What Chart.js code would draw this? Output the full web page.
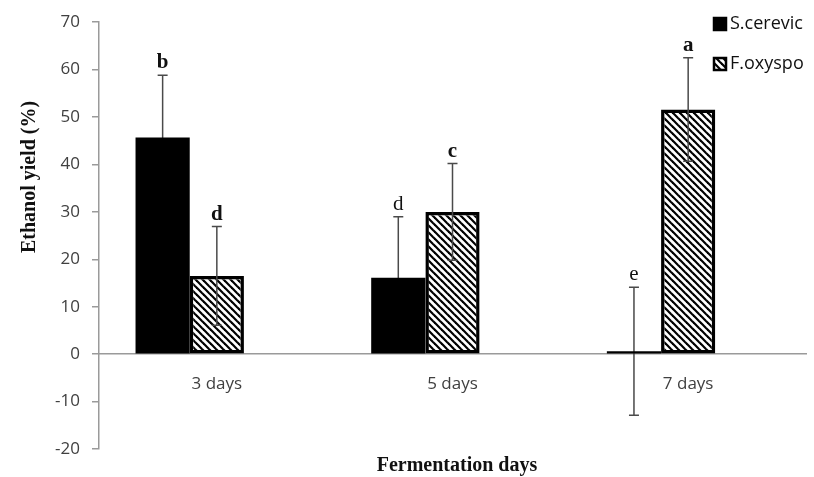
<!DOCTYPE html>
<html>
<head>
<meta charset="utf-8">
<script src="https://cdn.jsdelivr.net/npm/chart.js@4.4.1/dist/chart.umd.min.js"></script>
<style>
  html, body { margin: 0; padding: 0; background: #fff; }
  #wrap { width: 814px; height: 477px; }
</style>
</head>
<body>
<div id="wrap"><canvas id="ethanolChart" width="814" height="477"></canvas></div>
<script>
// data
const days = ['3 days', '5 days', '7 days'];
const scerevic = [45.7, 16.1, 0.6];
const foxyspo = [16.5, 30.0, 51.6];
const scerevicErr = [13.1, 12.9, 13.5];
const foxyspoErr = [10.4, 10.2, 10.9];
const scerevicLetters = ['b', 'd', 'e'];
const foxyspoLetters = ['d', 'c', 'a'];
const scerevicBold = [true, false, false];
const foxyspoBold = [true, true, true];
const emptySeries = [null, null, null]; // excel had a blank third series
const yTicks = { min: -20, max: 70, step: 10 };

// diagonal hatch for F.oxyspo
function makeHatch() {
    const s = 7;
    const c = document.createElement('canvas');
    c.width = s; c.height = s;
    const g = c.getContext('2d');
    g.fillStyle = '#fff';
    g.fillRect(0, 0, s, s);
    g.strokeStyle = '#000';
    g.lineWidth = 2.2;
    [-s, 0, s].forEach(function(k) {
        g.beginPath();
        g.moveTo(k - 1, -1);
        g.lineTo(k + s + 1, s + 1);
        g.stroke();
    });
    return g.createPattern(c, 'repeat');
}
const hatch = makeHatch();

const errSets = [
    { err: scerevicErr, vals: scerevic, letters: scerevicLetters, bold: scerevicBold },
    { err: foxyspoErr, vals: foxyspo, letters: foxyspoLetters, bold: foxyspoBold }
];

function drawErr(chart, di) {
    const ctx = chart.ctx;
    const y = chart.scales.y;
    const s = errSets[di];
    ctx.save();
    chart.getDatasetMeta(di).data.forEach(function(bar, i) {
        const x = bar.x;
        const top = y.getPixelForValue(s.vals[i] + s.err[i]);
        const bot = y.getPixelForValue(s.vals[i] - s.err[i]);
        ctx.strokeStyle = '#4a4a4a';
        ctx.lineWidth = 1.5;
        ctx.beginPath();
        ctx.moveTo(x, top); ctx.lineTo(x, bot);
        ctx.moveTo(x - 5, top); ctx.lineTo(x + 5, top);
        ctx.moveTo(x - 5, bot); ctx.lineTo(x + 5, bot);
        ctx.stroke();
        ctx.fillStyle = '#111';
        ctx.font = (s.bold[i] ? 'bold ' : '') + '21px "Liberation Serif"';
        ctx.textAlign = 'center';
        ctx.textBaseline = 'alphabetic';
        ctx.fillText(s.letters[i], x, top - 7);
    });
    ctx.restore();
}

// black bars hide their lower whisker, hatched ones show it
const errorBars = {
    id: 'errorBars',
    beforeDatasetsDraw(chart) { drawErr(chart, 0); },
    afterDatasetsDraw(chart) { drawErr(chart, 1); }
};

const extras = {
    id: 'extras',
    afterDraw(chart) {
        const ctx = chart.ctx;
        ctx.save();
        // axis titles
        ctx.fillStyle = '#111';
        ctx.font = 'bold 20px "Liberation Serif"';
        ctx.textAlign = 'center';
        ctx.textBaseline = 'middle';
        ctx.fillText('Fermentation days', 457, 466);
        ctx.translate(30, 177);
        ctx.rotate(-Math.PI / 2);
        ctx.fillText('Ethanol yield (%)', 0, 0);
        ctx.restore();

        // legend
        ctx.save();
        const items = [
            { label: chart.data.datasets[0].label, fill: '#000', y: 24 },
            { label: chart.data.datasets[1].label, fill: hatch, y: 64 }
        ];
        items.forEach(function(it) {
            ctx.fillStyle = it.fill;
            ctx.fillRect(713, it.y - 7, 14, 14);
            ctx.strokeStyle = '#000';
            ctx.lineWidth = 2.5;
            ctx.strokeRect(714, it.y - 6, 12, 12);
            ctx.fillStyle = '#111';
            ctx.font = '18px "Open Sans"';
            ctx.textAlign = 'left';
            ctx.textBaseline = 'middle';
            ctx.fillText(it.label, 730, it.y);
        });
        ctx.restore();
    }
};

const ctx = document.getElementById('ethanolChart').getContext('2d');
const ethanolChart = new Chart(ctx, {
    type: 'bar',
    data: {
        labels: days,
        datasets: [
            {
                label: 'S.cerevic',
                data: scerevic,
                backgroundColor: '#000',
                borderWidth: 0
            },
            {
                label: 'F.oxyspo',
                data: foxyspo,
                backgroundColor: hatch,
                borderColor: '#000',
                borderWidth: 3.5,
                borderSkipped: false
            },
            {
                label: '',
                data: emptySeries
            }
        ]
    },
    options: {
        responsive: false,
        animation: false,
        categoryPercentage: 0.69,
        barPercentage: 1,
        layout: { padding: { top: 18, bottom: 28, right: 8, left: 0 } },
        scales: {
            x: {
                position: { y: 0 },
                grid: { display: false },
                border: { color: '#9a9a9a', width: 1.5 },
                ticks: {
                    color: '#404040',
                    font: { family: '"Open Sans"', size: 17 },
                    padding: 12
                }
            },
            y: {
                min: yTicks.min,
                max: yTicks.max,
                afterFit: function(scale) { scale.width = 99; },
                grid: { drawOnChartArea: false, drawTicks: true, tickLength: 7, color: '#9a9a9a', lineWidth: 1.5 },
                border: { color: '#9a9a9a', width: 1.5 },
                ticks: {
                    stepSize: yTicks.step,
                    color: '#404040',
                    font: { family: '"Open Sans"', size: 17 },
                    padding: 12
                }
            }
        },
        plugins: {
            legend: { display: false },
            tooltip: { enabled: false }
        }
    },
    plugins: [errorBars, extras]
});
</script>
</body>
</html>
